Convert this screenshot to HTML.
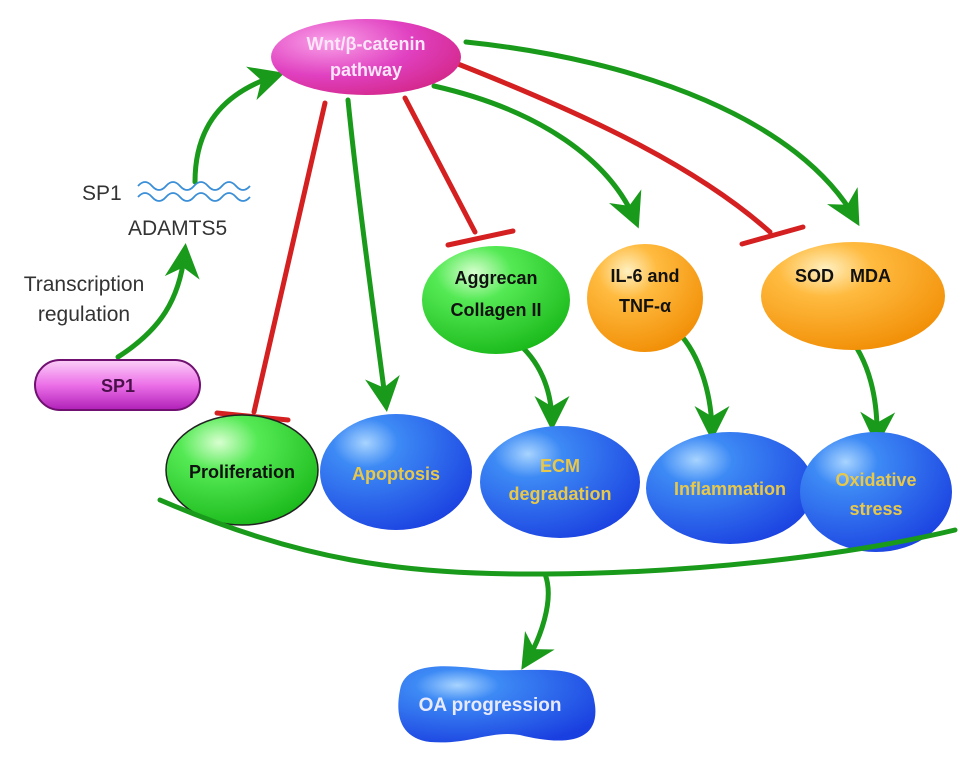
<!DOCTYPE html>
<html><head><meta charset="utf-8"><style>body{margin:0;background:#fff}svg{display:block}</style></head><body>
<svg width="969" height="762" viewBox="0 0 969 762" xmlns="http://www.w3.org/2000/svg" font-family="Liberation Sans, sans-serif" font-weight="bold">
<defs>
<radialGradient id="blue" cx="0.3" cy="0.25" r="0.85"><stop offset="0" stop-color="#a8d4ff"/><stop offset="0.25" stop-color="#3d8af5"/><stop offset="1" stop-color="#1a3fe0"/></radialGradient>
<radialGradient id="green" cx="0.35" cy="0.25" r="0.85"><stop offset="0" stop-color="#d8ffd0"/><stop offset="0.3" stop-color="#55ea55"/><stop offset="1" stop-color="#14b414"/></radialGradient>
<radialGradient id="orange" cx="0.35" cy="0.25" r="0.85"><stop offset="0" stop-color="#fff0c0"/><stop offset="0.3" stop-color="#ffbb40"/><stop offset="1" stop-color="#f08a00"/></radialGradient>
<radialGradient id="pink" cx="0.3" cy="0.3" r="0.9"><stop offset="0" stop-color="#f9a0e8"/><stop offset="0.5" stop-color="#e040c0"/><stop offset="1" stop-color="#d0207a"/></radialGradient>
<linearGradient id="pill" x1="0" y1="0" x2="0" y2="1"><stop offset="0" stop-color="#fbd0f8"/><stop offset="0.5" stop-color="#ec70e8"/><stop offset="1" stop-color="#b020b8"/></linearGradient>
<marker id="ar" viewBox="0 0 10 10" refX="8" refY="5" markerWidth="7" markerHeight="7" orient="auto-start-reverse"><path d="M0,0 L10,5 L0,10 L3,5 z" fill="#1a9a1a"/></marker>
</defs>
<g fill="none" stroke-width="5" stroke-linecap="round">
<path d="M118,357 C160,330 180,300 185,250" stroke="#1a9a1a" marker-end="url(#ar)"/>
<path d="M195,182 C195,120 230,90 278,75" stroke="#1a9a1a" marker-end="url(#ar)"/>
<path d="M325,103 L254,412" stroke="#d42020"/>
<path d="M217,413 L288,420" stroke="#d42020"/>
<path d="M348,100 C358,200 375,320 386,405" stroke="#1a9a1a" marker-end="url(#ar)"/>
<path d="M405,98 L475,232" stroke="#d42020"/>
<path d="M448,245 L513,231" stroke="#d42020"/>
<path d="M434,86 C540,110 610,160 636,222" stroke="#1a9a1a" marker-end="url(#ar)"/>
<path d="M458,64 C600,120 700,170 770,232" stroke="#d42020"/>
<path d="M742,244 L803,227" stroke="#d42020"/>
<path d="M466,42 C640,60 800,120 856,220" stroke="#1a9a1a" marker-end="url(#ar)"/>
<path d="M514,340 C540,360 552,390 552,424" stroke="#1a9a1a" marker-end="url(#ar)"/>
<path d="M678,332 C700,355 712,395 712,434" stroke="#1a9a1a" marker-end="url(#ar)"/>
<path d="M845,332 C870,360 878,400 877,440" stroke="#1a9a1a" marker-end="url(#ar)"/>
<path d="M545,574 C555,600 540,640 525,664" stroke="#1a9a1a" marker-end="url(#ar)"/>
</g>
<g fill="none" stroke="#3a8fd8" stroke-width="1.8">
<path d="M138,186 q7,-8 14,0 t14,0 t14,0 t14,0 t14,0 t14,0 t14,0 t14,0"/>
<path d="M138,197 q7,-8 14,0 t14,0 t14,0 t14,0 t14,0 t14,0 t14,0 t14,0"/>
</g>
<g font-weight="normal" fill="#333" font-size="21">
<text x="82" y="200">SP1</text>
<text x="128" y="235">ADAMTS5</text>
<text x="84" y="291" text-anchor="middle">Transcription</text>
<text x="84" y="321" text-anchor="middle">regulation</text>
</g>
<ellipse cx="366" cy="57" rx="95" ry="38" fill="url(#pink)"/>
<text x="366" y="50" text-anchor="middle" fill="#fbe6f8" font-size="18">Wnt/β-catenin</text>
<text x="366" y="76" text-anchor="middle" fill="#fbe6f8" font-size="18">pathway</text>
<rect x="35" y="360" width="165" height="50" rx="25" fill="url(#pill)" stroke="#701070" stroke-width="2"/>
<text x="118" y="392" text-anchor="middle" fill="#4a104a" font-size="18">SP1</text>
<ellipse cx="496" cy="300" rx="74" ry="54" fill="url(#green)"/>
<text x="496" y="284" text-anchor="middle" fill="#111" font-size="18">Aggrecan</text>
<text x="496" y="316" text-anchor="middle" fill="#111" font-size="18">Collagen II</text>
<ellipse cx="645" cy="298" rx="58" ry="54" fill="url(#orange)"/>
<text x="645" y="282" text-anchor="middle" fill="#111" font-size="18">IL-6 and</text>
<text x="645" y="312" text-anchor="middle" fill="#111" font-size="18">TNF-α</text>
<ellipse cx="853" cy="296" rx="92" ry="54" fill="url(#orange)"/>
<text x="795" y="282" fill="#111" font-size="18">SOD</text>
<text x="850" y="282" fill="#111" font-size="18">MDA</text>
<ellipse cx="242" cy="470" rx="76" ry="55" fill="url(#green)" stroke="#222" stroke-width="1.5"/>
<text x="242" y="478" text-anchor="middle" fill="#111" font-size="18">Proliferation</text>
<ellipse cx="396" cy="472" rx="76" ry="58" fill="url(#blue)"/>
<text x="396" y="480" text-anchor="middle" fill="#e8c84a" font-size="18">Apoptosis</text>
<ellipse cx="560" cy="482" rx="80" ry="56" fill="url(#blue)"/>
<text x="560" y="472" text-anchor="middle" fill="#e8c84a" font-size="18">ECM</text>
<text x="560" y="500" text-anchor="middle" fill="#e8c84a" font-size="18">degradation</text>
<ellipse cx="730" cy="488" rx="84" ry="56" fill="url(#blue)"/>
<text x="730" y="495" text-anchor="middle" fill="#e8c84a" font-size="18">Inflammation</text>
<ellipse cx="876" cy="492" rx="76" ry="60" fill="url(#blue)"/>
<text x="876" y="486" text-anchor="middle" fill="#e8c84a" font-size="18">Oxidative</text>
<text x="876" y="515" text-anchor="middle" fill="#e8c84a" font-size="18">stress</text>
<path d="M160,500 C300,560 400,575 545,574 C700,573 850,555 955,530" fill="none" stroke="#1a9a1a" stroke-width="5" stroke-linecap="round"/>
<path d="M400,690 C405,660 450,665 490,670 C550,672 590,660 595,705 C600,745 560,745 520,735 C490,730 470,745 430,742 C400,738 395,715 400,690 z" fill="url(#blue)"/>
<text x="490" y="711" text-anchor="middle" fill="#e8eaff" font-size="19">OA progression</text>
</svg>
</body></html>
